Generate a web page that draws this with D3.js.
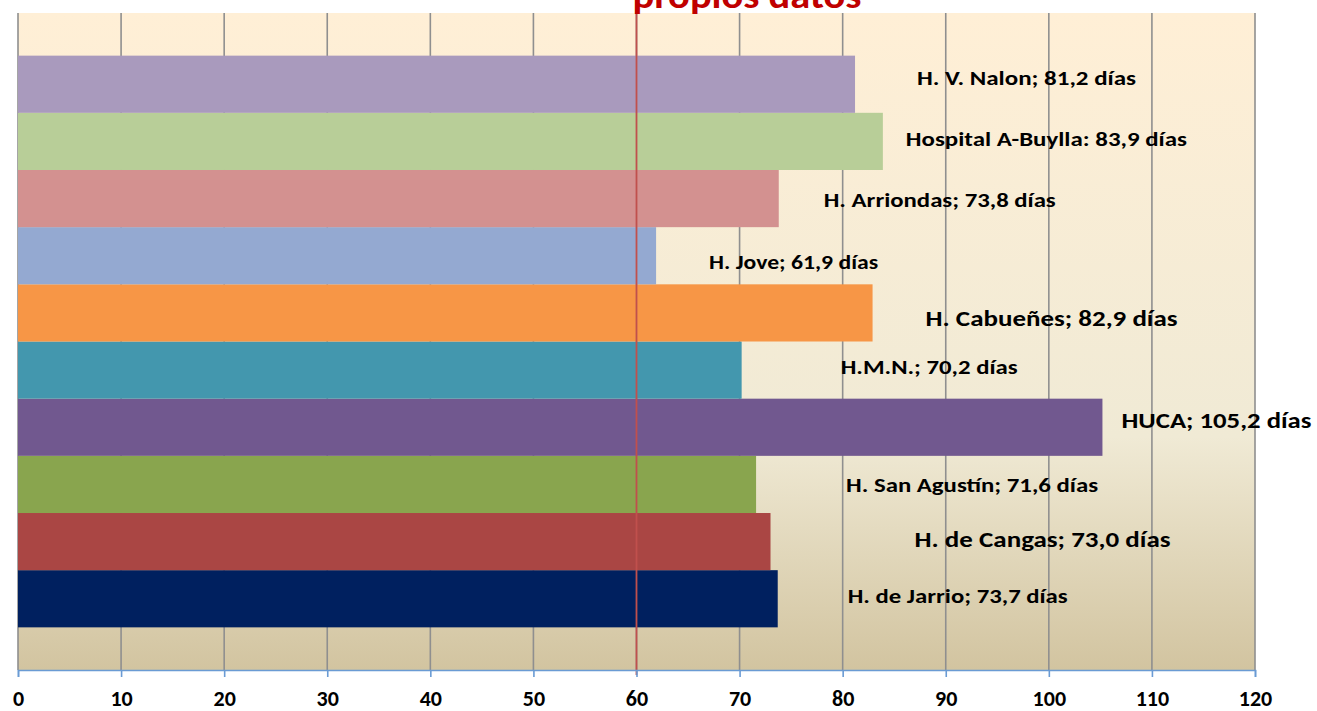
<!DOCTYPE html>
<html>
<head>
<meta charset="utf-8">
<script src="https://cdn.jsdelivr.net/npm/d3@7"></script>
<style>
  body { margin: 0; background: #fff; }
  text { font-family: Carlito, Calibri, Lato, sans-serif; font-weight: bold; }
</style>
</head>
<body>
<script>
// datos (de abajo hacia arriba, como en el gráfico)
const hospitales = ["H. de Jarrio", "H. de Cangas", "H. San Agustín", "HUCA", "H.M.N.",
  "H. Cabueñes", "H. Jove", "H. Arriondas", "Hospital A-Buylla", "H. V. Nalon"];
const dias = [73.7, 73.0, 71.6, 105.2, 70.2, 82.9, 61.9, 73.8, 83.9, 81.2];
const separador = [";", ";", ";", ";", ";", ";", ";", ";", ":", ";"];
const colores = ["#00205f", "#aa4644", "#89a54e", "#71588f", "#4397ae",
  "#f79646", "#94a9d1", "#d39190", "#b8ce98", "#a99abd"];
const ticksX = [0, 10, 20, 30, 40, 50, 60, 70, 80, 90, 100, 110, 120];
const referencia = 60;
const titulo = "propios datos";

// colocación manual de las etiquetas (como en el Excel original), dy = línea base
const etiquetas = [
  { dx: 70, dy: 4, size: 20, w: 220 },
  { dx: 144, dy: 5, size: 23, w: 256 },
  { dx: 90, dy: 8, size: 20, w: 252 },
  { dx: 19, dy: 1, size: 22, w: 190 },
  { dx: 99, dy: 4, size: 20, w: 177 },
  { dx: 53, dy: 13, size: 23, w: 252 },
  { dx: 53, dy: 13, size: 20, w: 169 },
  { dx: 45, dy: 8, size: 20, w: 232 },
  { dx: 23, dy: 5, size: 20, w: 281 },
  { dx: 62, dy: 1, size: 20, w: 219 }
];

const width = 1317, height = 711;
const mLeft = 18, mRight = 1255, mTop = 13, mBottom = 670;

const svg = d3.select("body").append("svg")
  .attr("width", width)
  .attr("height", height);

// fondo "pergamino"
const grad = svg.append("defs").append("linearGradient")
  .attr("id", "fondo").attr("x1", 0).attr("y1", 0).attr("x2", 0).attr("y2", 1);
grad.append("stop").attr("offset", "0%").attr("stop-color", "#ffefd6");
grad.append("stop").attr("offset", "64.5%").attr("stop-color", "#f0ead5");
grad.append("stop").attr("offset", "100%").attr("stop-color", "#d2c4a0");

svg.append("rect")
  .attr("x", mLeft).attr("y", mTop)
  .attr("width", mRight - mLeft).attr("height", mBottom - mTop)
  .attr("fill", "url(#fondo)");

const x = d3.scaleLinear().domain([0, 120]).range([mLeft, mRight]);
const y = d3.scaleBand().domain(hospitales).range([mBottom, mTop])
  .paddingInner(0).paddingOuter(0.746);

// rejilla vertical
svg.append("g").selectAll("line")
  .data(ticksX)
  .join("line")
  .attr("x1", d => x(d)).attr("x2", d => x(d))
  .attr("y1", mTop).attr("y2", mBottom)
  .attr("stroke", "#8f8f8f")
  .attr("stroke-width", 1.6);

// barras
svg.append("g").selectAll("rect")
  .data(hospitales)
  .join("rect")
  .attr("x", x(0))
  .attr("y", d => y(d))
  .attr("width", (d, i) => x(dias[i]) - x(0))
  .attr("height", y.bandwidth())
  .attr("fill", (d, i) => colores[i]);

// línea de referencia en 60 días
svg.append("line")
  .attr("x1", x(referencia)).attr("x2", x(referencia))
  .attr("y1", 9).attr("y2", mBottom + 5)
  .attr("stroke", "#c0504d")
  .attr("stroke-width", 1.8);

// etiquetas de datos
svg.append("g").selectAll("text")
  .data(hospitales)
  .join("text")
  .attr("x", (d, i) => x(dias[i]) + etiquetas[i].dx)
  .attr("y", (d, i) => y(d) + y.bandwidth() / 2 + etiquetas[i].dy)
  .attr("font-size", (d, i) => etiquetas[i].size)
  .attr("textLength", (d, i) => etiquetas[i].w)
  .attr("lengthAdjust", "spacingAndGlyphs")
  .attr("fill", "#000")
  .text((d, i) => `${d}${separador[i]} ${dias[i].toFixed(1).replace(".", ",")} días`);

// eje X
const eje = svg.append("g")
  .attr("transform", `translate(0,${mBottom})`)
  .call(d3.axisBottom(x).tickValues(ticksX).tickSize(7).tickPadding(13).tickFormat(d3.format("d")));
eje.select(".domain").attr("stroke", "#6a9bd4").attr("stroke-width", 1.6);
eje.selectAll(".tick line").attr("stroke", "#6a9bd4").attr("stroke-width", 1.6);
eje.selectAll(".tick text")
  .style("font-size", "22px")
  .style("font-family", "Carlito, Calibri, Lato, sans-serif")
  .style("font-weight", "bold")
  .attr("fill", "#000");

// título (cortado por arriba en el original)
svg.append("text")
  .attr("x", 747)
  .attr("y", 8)
  .attr("text-anchor", "middle")
  .attr("font-size", 36)
  .attr("textLength", 229)
  .attr("lengthAdjust", "spacingAndGlyphs")
  .attr("fill", "#c00000")
  .text(titulo);
</script>
</body>
</html>
